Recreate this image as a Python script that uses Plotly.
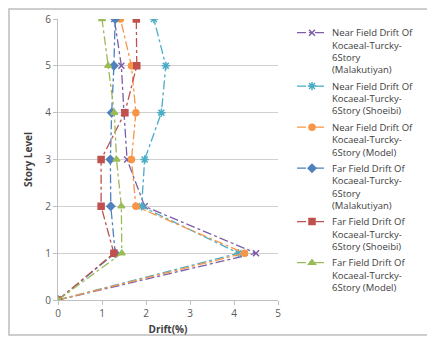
import plotly.graph_objects as go

story_levels = [0, 1, 2, 3, 4, 5, 6]

near_malakutiyan = [0, 4.50, 1.97, 1.57, 1.50, 1.44, 1.28]
near_shoeibi = [0, 4.10, 1.90, 1.97, 2.35, 2.45, 2.18]
near_model = [0, 4.24, 1.77, 1.67, 1.77, 1.67, 1.42]
far_malakutiyan = [0, 1.30, 1.20, 1.19, 1.22, 1.27, 1.30]
far_shoeibi = [0, 1.27, 0.98, 0.98, 1.52, 1.79, 1.78]
far_model = [0, 1.45, 1.44, 1.33, 1.28, 1.14, 1.00]

series_names = [
    "Near Field Drift Of<br>Kocaeal-Turcky-<br>6Story<br>(Malakutiyan)",
    "Near Field Drift Of<br>Kocaeal-Turcky-<br>6Story (Shoeibi)",
    "Near Field Drift Of<br>Kocaeal-Turcky-<br>6Story (Model)",
    "Far Field Drift Of<br>Kocaeal-Turcky-<br>6Story<br>(Malakutiyan)",
    "Far Field Drift Of<br>Kocaeal-Turcky-<br>6Story (Shoeibi)",
    "Far Field Drift Of<br>Kocaeal-Turcky-<br>6Story (Model)",
]
series_values = [near_malakutiyan, near_shoeibi, near_model,
                 far_malakutiyan, far_shoeibi, far_model]
colors = ["#7B5EA7", "#4BACC6", "#F79646", "#4F81BD", "#C0504D", "#9BBB59"]
symbols = ["x-thin-open", "asterisk-open", "circle", "diamond", "square", "triangle-up"]
sizes = [6, 7, 6, 6, 6, 6]

fig = go.Figure()
for i, (name, vals) in enumerate(zip(series_names, series_values)):
    fig.add_trace(go.Scatter(
        x=vals, y=story_levels, name=name, mode="lines+markers",
        legendgroup=f"g{i}",
        line=dict(color=colors[i], width=1.3, dash="dashdot"),
        marker=dict(color=colors[i], symbol=symbols[i], size=sizes[i],
                    line=dict(color=colors[i], width=1.5)),
    ))

# The page body adds an 8px offset; figure is 427x330.
OFF = 8

# paper coords helpers (plot area in screen px x: 58..278, y: 19..300)
def px_x(p):
    return (p - 58) / 220.0

def px_y(p):
    return (300 - p) / 281.0

fig.update_layout(
    width=435 - OFF, height=338 - OFF,
    margin=dict(l=58 - OFF, r=157, t=19 - OFF, b=38, autoexpand=False),
    paper_bgcolor="white", plot_bgcolor="white",
    font=dict(family="Open Sans, Liberation Sans, sans-serif", size=10, color="#404040"),
    showlegend=True,
    legend=dict(
        x=px_x(292), y=px_y(20), xanchor="left", yanchor="top",
        valign="top", tracegroupgap=1, itemwidth=30,
        font=dict(size=9.5, color="#404040"),
        bgcolor="rgba(0,0,0,0)",
    ),
    xaxis=dict(
        range=[0, 5], tickvals=[0, 1, 2, 3, 4, 5], showgrid=False, zeroline=False,
        showline=True, linecolor="#BFBFBF", linewidth=1, automargin=False,
        ticks="outside", ticklen=4, tickcolor="#BFBFBF",
        tickfont=dict(size=10, color="#595959"),
        title=dict(text="<b>Drift(%)</b>", font=dict(size=10, color="#404040"), standoff=6),
    ),
    yaxis=dict(
        range=[0, 6], tickvals=[0, 1, 2, 3, 4, 5, 6], showgrid=True, gridcolor="#D0D0D0",
        zeroline=False, showline=True, linecolor="#BFBFBF", linewidth=1, automargin=False,
        ticks="outside", ticklen=4, tickcolor="#BFBFBF",
        tickfont=dict(size=10, color="#595959"),
        title=dict(text="<b>Story Level</b>", font=dict(size=10, color="#404040"), standoff=10),
    ),
    shapes=[dict(
        type="rect", xref="paper", yref="paper",
        x0=px_x(9), x1=px_x(433), y0=px_y(335), y1=px_y(9),
        line=dict(color="#BDBDBD", width=1.5), fillcolor="rgba(0,0,0,0)", layer="below",
    )],
)

fig.write_html("out.html")
